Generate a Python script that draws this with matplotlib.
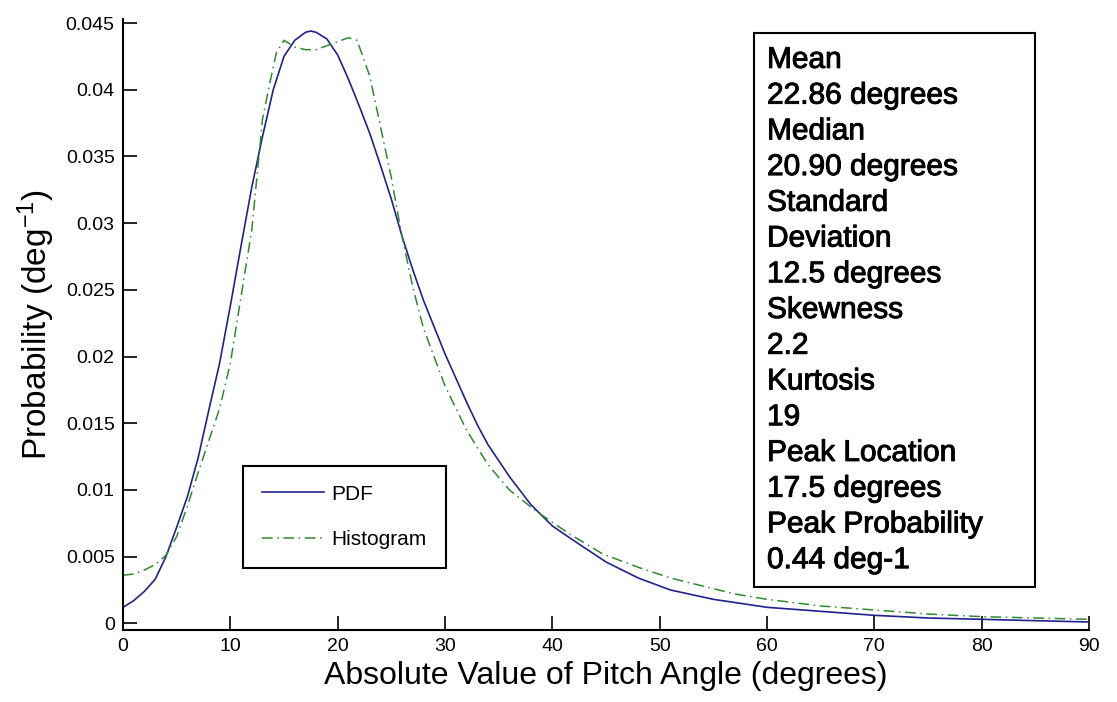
import numpy as np
import matplotlib
matplotlib.use('Agg')
import matplotlib.pyplot as plt
import matplotlib.patheffects as pe
from matplotlib.patches import Rectangle

# --- Data ---
pdf_x = [0, 1, 2, 3, 4, 5, 6, 7, 8, 9, 10, 11, 12, 13, 14, 15, 16, 17, 17.5,
         18, 19, 20, 21, 22, 23, 24, 25, 26, 27, 28, 29, 30, 31, 32, 33, 34,
         36, 38, 40, 42, 45, 48, 51, 55, 60, 65, 70, 75, 80, 85, 90]
pdf_y = [0.0012, 0.0017, 0.0024, 0.0033, 0.0050, 0.0072, 0.0095, 0.0124,
         0.0160, 0.0195, 0.0238, 0.0283, 0.0327, 0.0365, 0.0400, 0.0425,
         0.0437, 0.0443, 0.0444, 0.0443, 0.0438, 0.0426, 0.0408, 0.0388,
         0.0367, 0.0343, 0.0318, 0.0290, 0.0265, 0.0242, 0.0222, 0.0202,
         0.0184, 0.0166, 0.0149, 0.0134, 0.0110, 0.0089, 0.0073, 0.0062,
         0.0046, 0.0034, 0.0025, 0.0018, 0.0012, 0.0009, 0.0006, 0.0004,
         0.0003, 0.0002, 0.0001]

hist_x = [0, 1, 2, 3, 4, 5, 6, 7, 8, 9, 10, 11, 12, 13, 13.7, 14.3, 15, 16,
          17, 18, 19, 20, 21, 21.8, 22.3, 23, 24, 25, 26, 27, 28, 30, 32, 34,
          36, 38.5, 41.6, 44.7, 48, 51, 54, 57, 60, 65, 70, 75, 80, 85, 90]
hist_y = [0.0036, 0.0037, 0.0040, 0.0044, 0.0051, 0.0065, 0.0088, 0.0113,
          0.0137, 0.0161, 0.0195, 0.0245, 0.0295, 0.0378, 0.0406, 0.0428,
          0.0437, 0.0432, 0.0430, 0.0430, 0.0433, 0.0436, 0.0439, 0.0437,
          0.0426, 0.0410, 0.0372, 0.0334, 0.0290, 0.0252, 0.0221, 0.0178,
          0.0145, 0.0119, 0.0100, 0.0084, 0.0067, 0.0052, 0.0042, 0.0034,
          0.0028, 0.0022, 0.0018, 0.0013, 0.0010, 0.0007, 0.0005, 0.0004,
          0.0003]

x_ticks = [0, 10, 20, 30, 40, 50, 60, 70, 80, 90]
y_ticks = [0, 0.005, 0.01, 0.015, 0.02, 0.025, 0.03, 0.035, 0.04, 0.045]
y_ticklabels = ['0', '0.005', '0.01', '0.015', '0.02', '0.025', '0.03',
                '0.035', '0.04', '0.045']

stats_lines = ['Mean', '22.86 degrees', 'Median', '20.90 degrees',
               'Standard', 'Deviation', '12.5 degrees', 'Skewness', '2.2',
               'Kurtosis', '19', 'Peak Location', '17.5 degrees',
               'Peak Probability', '0.44 deg-1']

# --- Style ---
plt.rcParams['font.family'] = ['Liberation Sans', 'DejaVu Sans']
plt.rcParams['mathtext.fontset'] = 'custom'
plt.rcParams['mathtext.rm'] = 'Liberation Sans'
plt.rcParams['mathtext.it'] = 'Liberation Sans'

W, H = 1117, 702
fig = plt.figure(figsize=(W / 100, H / 100), dpi=100)
fig.patch.set_facecolor('white')
ax = fig.add_axes([123 / W, 1 - 630 / H, (1089 - 123) / W, (630 - 19) / H])

ax.plot(pdf_x, pdf_y, color='#22228c', linewidth=1.2, label='PDF')
ax.plot(hist_x, hist_y, color='#2f8a2f', linewidth=1.1,
        linestyle=(0, (7, 3, 1, 3)), label='Histogram')

ax.set_xlim(0, 90)
ax.set_ylim(-0.0005, 0.0453)
ax.set_xticks(x_ticks)
ax.set_xticklabels([str(t) for t in x_ticks])
ax.set_yticks(y_ticks)
ax.set_yticklabels(y_ticklabels)
ax.tick_params(direction='in', length=10, width=1.2, labelsize=14,
               colors='black', pad=6)
for side in ['top', 'right']:
    ax.spines[side].set_visible(False)
for side in ['left', 'bottom']:
    ax.spines[side].set_linewidth(1.5)

ax.set_xlabel('Absolute Value of Pitch Angle (degrees)', fontsize=23,
              labelpad=4)
ax.set_ylabel(r'Probability (deg$^{-1}$)', fontsize=24, labelpad=6)

leg = ax.legend(loc='upper left', bbox_to_anchor=(243 / W, 1 - 466 / H),
                bbox_transform=fig.transFigure, borderaxespad=0,
                fancybox=False, framealpha=1, edgecolor='black',
                fontsize=15, handlelength=3.0, handletextpad=0.35,
                labelspacing=1.25, borderpad=0.9)
leg.get_frame().set_linewidth(1.5)

# --- Statistics box ---
box_l, box_t, box_r, box_b = 754, 33, 1035, 587
fig.patches.append(Rectangle((box_l / W, 1 - box_b / H),
                             (box_r - box_l) / W, (box_b - box_t) / H,
                             transform=fig.transFigure, fill=True,
                             facecolor='white', edgecolor='black',
                             linewidth=1.5, zorder=5))
pad = 9
pitch = (box_b - box_t - 2 * pad) / len(stats_lines)
for i, line in enumerate(stats_lines):
    y = box_t + pad + pitch * (i + 0.5)
    fig.text(767 / W, 1 - y / H, line, fontsize=21.5, va='center',
             ha='left', zorder=6,
             path_effects=[pe.withStroke(linewidth=0.7, foreground='black')])

fig.savefig('out.png', dpi=100)
